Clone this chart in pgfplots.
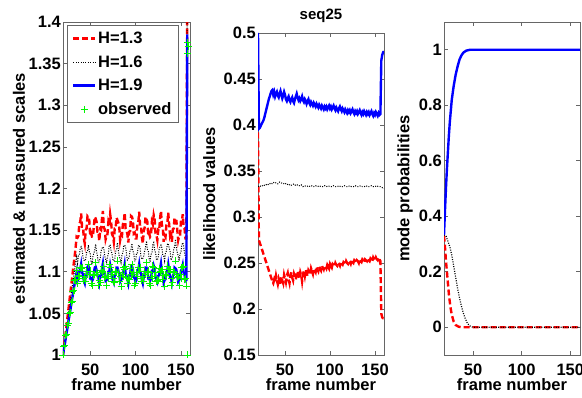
\documentclass[border=0pt]{standalone}
\usepackage{pgfplots}
\pgfplotsset{compat=1.18}
\usepackage{pgfplotstable}
\usepackage{fontspec}
\setmainfont{Liberation Sans}
\definecolor{mred}{RGB}{255,0,0}
\definecolor{mblue}{RGB}{0,0,255}
\definecolor{mgreen}{RGB}{0,245,0}
\newcommand\lf{\fontsize{16.5}{19}\selectfont\bfseries}

\pgfplotstableread{
f r b u o
20 1.000 1.000 1.000 1.000
21 1.009 1.008 1.007 1.010
22 1.018 1.016 1.013 1.012
23 1.027 1.024 1.020 1.024
24 1.036 1.032 1.027 1.025
25 1.046 1.040 1.033 1.036
26 1.055 1.048 1.040 1.038
27 1.064 1.056 1.047 1.050
28 1.074 1.064 1.053 1.051
29 1.083 1.072 1.060 1.063
30 1.092 1.080 1.067 1.065
31 1.102 1.088 1.073 1.076
32 1.111 1.096 1.080 1.078
33 1.120 1.104 1.087 1.090
34 1.130 1.112 1.093 1.091
35 1.142 1.118 1.099 1.102
36 1.141 1.110 1.089 1.086
37 1.143 1.119 1.091 1.096
38 1.158 1.120 1.100 1.094
39 1.160 1.128 1.103 1.105
40 1.170 1.130 1.109 1.104
41 1.154 1.127 1.099 1.105
42 1.154 1.117 1.097 1.089
43 1.140 1.114 1.089 1.092
44 1.134 1.113 1.086 1.094
45 1.150 1.115 1.095 1.089
46 1.152 1.123 1.097 1.100
47 1.167 1.125 1.106 1.097
48 1.166 1.132 1.107 1.109
49 1.161 1.124 1.102 1.097
50 1.143 1.122 1.092 1.101
51 1.146 1.111 1.092 1.086
52 1.142 1.110 1.089 1.084
53 1.142 1.119 1.091 1.097
54 1.155 1.122 1.098 1.096
55 1.166 1.126 1.105 1.097
56 1.164 1.133 1.106 1.111
57 1.160 1.124 1.102 1.099
58 1.148 1.119 1.095 1.097
59 1.148 1.110 1.093 1.084
60 1.137 1.113 1.087 1.090
61 1.151 1.116 1.095 1.087
62 1.150 1.125 1.096 1.102
63 1.164 1.128 1.104 1.099
64 1.173 1.130 1.110 1.101
65 1.153 1.128 1.099 1.107
66 1.151 1.119 1.096 1.093
67 1.139 1.115 1.089 1.094
68 1.143 1.110 1.090 1.084
69 1.145 1.118 1.093 1.095
70 1.159 1.121 1.100 1.092
71 1.155 1.132 1.100 1.109
72 1.169 1.132 1.108 1.105
73 1.161 1.125 1.102 1.097
74 1.145 1.122 1.093 1.099
75 1.143 1.114 1.090 1.088
76 1.136 1.113 1.087 1.092
77 1.152 1.115 1.096 1.087
78 1.152 1.124 1.097 1.100
79 1.165 1.127 1.105 1.099
80 1.162 1.135 1.105 1.113
81 1.159 1.126 1.101 1.099
82 1.154 1.118 1.097 1.089
83 1.138 1.116 1.088 1.094
84 1.144 1.111 1.090 1.082
85 1.143 1.120 1.092 1.097
86 1.157 1.123 1.099 1.094
87 1.159 1.131 1.102 1.105
88 1.171 1.132 1.109 1.103
89 1.152 1.130 1.098 1.107
90 1.150 1.121 1.095 1.093
91 1.145 1.114 1.091 1.086
92 1.135 1.115 1.086 1.092
93 1.148 1.118 1.094 1.091
94 1.149 1.126 1.096 1.104
95 1.167 1.127 1.106 1.097
96 1.166 1.134 1.107 1.109
97 1.162 1.125 1.103 1.097
98 1.146 1.122 1.094 1.099
99 1.147 1.113 1.092 1.084
100 1.140 1.113 1.088 1.086
101 1.140 1.122 1.090 1.099
102 1.158 1.122 1.100 1.094
103 1.159 1.131 1.102 1.105
104 1.172 1.132 1.109 1.101
105 1.155 1.128 1.100 1.105
106 1.155 1.118 1.098 1.089
107 1.141 1.115 1.090 1.092
108 1.134 1.116 1.086 1.094
109 1.149 1.119 1.094 1.089
110 1.153 1.125 1.098 1.100
111 1.166 1.129 1.105 1.097
112 1.163 1.137 1.105 1.111
113 1.160 1.127 1.102 1.099
114 1.143 1.125 1.092 1.101
115 1.146 1.114 1.092 1.086
116 1.142 1.113 1.089 1.084
117 1.144 1.121 1.092 1.095
118 1.160 1.122 1.101 1.092
119 1.157 1.133 1.101 1.107
120 1.168 1.135 1.107 1.105
121 1.163 1.126 1.103 1.095
122 1.146 1.123 1.094 1.099
123 1.144 1.115 1.091 1.088
124 1.138 1.114 1.088 1.090
125 1.150 1.118 1.095 1.089
126 1.149 1.127 1.096 1.104
127 1.164 1.130 1.104 1.099
128 1.173 1.132 1.110 1.101
129 1.156 1.129 1.100 1.103
130 1.153 1.120 1.097 1.091
131 1.136 1.119 1.087 1.096
132 1.144 1.113 1.090 1.082
133 1.142 1.123 1.091 1.097
134 1.156 1.125 1.099 1.096
135 1.158 1.133 1.102 1.107
136 1.171 1.134 1.109 1.103
137 1.157 1.129 1.101 1.103
138 1.144 1.125 1.093 1.101
139 1.148 1.114 1.093 1.084
140 1.136 1.116 1.087 1.092
141 1.151 1.119 1.095 1.087
142 1.152 1.127 1.097 1.100
143 1.165 1.130 1.105 1.099
144 1.161 1.139 1.104 1.113
145 1.161 1.128 1.102 1.097
146 1.150 1.123 1.095 1.093
147 1.138 1.119 1.088 1.094
148 1.143 1.113 1.090 1.084
149 1.143 1.122 1.092 1.097
150 1.160 1.123 1.101 1.092
151 1.160 1.132 1.103 1.105
152 1.169 1.135 1.108 1.105
153 1.153 1.131 1.099 1.107
154 1.152 1.122 1.096 1.091
155 1.140 1.118 1.089 1.092
156 1.140 1.115 1.090 1.083
157 1.450 1.420 1.385 1.375
}\scales

\pgfplotstableread{
f v
20 0.500
21 0.396
22 0.397
23 0.399
24 0.401
25 0.403
26 0.405
27 0.408
28 0.412
29 0.416
30 0.420
31 0.424
32 0.428
33 0.431
34 0.434
35 0.437
36 0.438
37 0.433
38 0.436
39 0.431
40 0.434
41 0.436
42 0.432
43 0.430
44 0.434
45 0.437
46 0.433
47 0.429
48 0.432
49 0.436
50 0.433
51 0.428
52 0.426
53 0.429
54 0.431
55 0.427
56 0.425
57 0.428
58 0.430
59 0.426
60 0.424
61 0.428
62 0.431
63 0.434
64 0.430
65 0.427
66 0.429
67 0.426
68 0.428
69 0.431
70 0.427
71 0.425
72 0.428
73 0.426
74 0.423
75 0.426
76 0.428
77 0.424
78 0.422
79 0.425
80 0.423
81 0.421
82 0.424
83 0.422
84 0.420
85 0.423
86 0.421
87 0.419
88 0.422
89 0.420
90 0.418
91 0.421
92 0.419
93 0.417
94 0.420
95 0.418
96 0.420
97 0.417
98 0.419
99 0.421
100 0.418
101 0.420
102 0.417
103 0.419
104 0.421
105 0.418
106 0.416
107 0.419
108 0.417
109 0.415
110 0.418
111 0.420
112 0.417
113 0.415
114 0.418
115 0.416
116 0.414
117 0.417
118 0.415
119 0.413
120 0.416
121 0.414
122 0.416
123 0.413
124 0.415
125 0.417
126 0.414
127 0.412
128 0.415
129 0.413
130 0.415
131 0.412
132 0.414
133 0.416
134 0.413
135 0.411
136 0.414
137 0.412
138 0.415
139 0.413
140 0.411
141 0.414
142 0.412
143 0.414
144 0.411
145 0.413
146 0.415
147 0.412
148 0.410
149 0.413
150 0.411
151 0.414
152 0.412
153 0.410
154 0.413
155 0.411
156 0.412
157 0.470
158 0.476
159 0.479
160 0.480
}\likeBlue

\pgfplotstableread{
f v
20 0.333
22 0.334
24 0.333
26 0.335
28 0.334
30 0.336
32 0.335
34 0.337
36 0.336
38 0.338
40 0.337
42 0.336
44 0.338
46 0.337
48 0.336
50 0.337
52 0.335
54 0.336
56 0.334
58 0.335
60 0.336
62 0.334
64 0.335
66 0.334
68 0.335
70 0.333
72 0.334
74 0.333
76 0.334
78 0.333
80 0.334
82 0.333
84 0.334
86 0.333
88 0.334
90 0.333
92 0.333
94 0.334
96 0.333
98 0.334
100 0.333
102 0.333
104 0.334
106 0.333
108 0.333
110 0.334
112 0.333
114 0.333
116 0.334
118 0.333
120 0.333
122 0.334
124 0.333
126 0.333
128 0.334
130 0.333
132 0.333
134 0.334
136 0.333
138 0.333
140 0.334
142 0.333
144 0.333
146 0.334
148 0.333
150 0.333
152 0.334
154 0.333
156 0.333
158 0.332
160 0.331
}\likeBlack

\pgfplotstableread{
f v
20 0.392
21 0.275
22 0.272
23 0.269
24 0.266
25 0.263
26 0.260
27 0.257
28 0.254
29 0.251
30 0.248
31 0.245
32 0.242
33 0.239
34 0.236
35 0.233
36 0.230
37 0.228
38 0.232
39 0.229
40 0.236
41 0.231
42 0.227
43 0.233
44 0.230
45 0.226
46 0.235
47 0.231
48 0.228
49 0.237
50 0.233
51 0.229
52 0.236
53 0.239
54 0.232
55 0.228
56 0.236
57 0.240
58 0.234
59 0.231
60 0.238
61 0.235
62 0.232
63 0.239
64 0.241
65 0.236
66 0.233
67 0.240
68 0.237
69 0.230
70 0.238
71 0.241
72 0.236
73 0.243
74 0.239
75 0.236
76 0.242
77 0.240
78 0.237
79 0.244
80 0.241
81 0.238
82 0.244
83 0.242
84 0.240
85 0.246
86 0.243
87 0.241
88 0.246
89 0.244
90 0.242
91 0.247
92 0.245
93 0.243
94 0.247
95 0.246
96 0.244
97 0.248
98 0.246
99 0.244
100 0.249
101 0.247
102 0.245
103 0.249
104 0.248
105 0.246
106 0.250
107 0.248
108 0.247
109 0.250
110 0.249
111 0.247
112 0.251
113 0.249
114 0.248
115 0.251
116 0.250
117 0.248
118 0.252
119 0.250
120 0.249
121 0.252
122 0.251
123 0.249
124 0.253
125 0.251
126 0.250
127 0.253
128 0.252
129 0.250
130 0.253
131 0.252
132 0.250
133 0.254
134 0.252
135 0.251
136 0.254
137 0.253
138 0.251
139 0.254
140 0.253
141 0.252
142 0.255
143 0.253
144 0.252
145 0.255
146 0.254
147 0.252
148 0.256
149 0.254
150 0.253
151 0.256
152 0.254
153 0.253
154 0.256
155 0.254
156 0.252
157 0.195
158 0.191
159 0.190
160 0.190
}\likeRed

\pgfplotsset{
  mframe/.style={
    scale only axis, anchor=south west, enlargelimits=false,
    xmin=20, xmax=160, xtick={50,100,150},
    tick align=inside, major tick length=4pt,
    axis line style={black!60, line width=0.6pt},
    every tick/.style={black!60, line width=0.6pt},
    scaled ticks=false,
    /pgf/number format/assume math mode=true,
    tick label style={font=\lf},
    yticklabel style={inner xsep=2pt},
    xticklabel style={inner ysep=1.5pt, yshift=-7pt},
    xlabel={frame number},
    every axis x label/.style={at={(axis description cs:0.5,0)}, anchor=base, yshift=-36pt, font=\lf},
  },
  mred/.style={color=mred, line width=2.4pt, dash pattern=on 6pt off 3pt},
  mblack/.style={color=black, line width=1pt, dash pattern=on 1pt off 1.4pt},
  mblue/.style={color=mblue, line width=2.4pt},
}

\begin{document}
\begin{tikzpicture}
\useasboundingbox (0pt,0pt) rectangle (582pt,397pt);

% panel 1
\begin{axis}[mframe, at={(63pt,42pt)}, width=127pt, height=333pt,
  ymin=1, ymax=1.4, ytick={1,1.05,1.1,1.15,1.2,1.25,1.3,1.35,1.4},
  yticklabels={1,1.05,1.1,1.15,1.2,1.25,1.3,1.35,1.4},
  ylabel={estimated \& measured scales},
  every axis y label/.style={at={(axis description cs:-0.30,0.5)}, rotate=90, anchor=base, font=\lf},
  legend style={at={(axis description cs:0.031,0.99)}, anchor=north west,
    draw=black!60, line width=0.6pt, fill=white, font=\lf,
    inner xsep=5pt, inner ysep=5pt, row sep=7.5pt,
    nodes={inner sep=1.5pt},
    cells={anchor=west}},
  legend image code/.code={\draw[mark repeat=2,mark phase=2,#1] plot coordinates {(0pt,0pt) (11pt,0pt) (22pt,0pt)};},
]
\addplot[mred] table[x=f,y=r] {\scales};
\addlegendentry{H=1.3}
\addplot[mblack] table[x=f,y=b] {\scales};
\addlegendentry{H=1.6}
\addplot[mblue] table[x=f,y=u] {\scales};
\addlegendentry{H=1.9}
\addplot[only marks, mark=+, mark size=3.5pt, color=mgreen, mark options={line width=0.7pt}] table[x=f,y=o] {\scales};
\addlegendentry{observed\hspace{10pt}}
\addplot[only marks, mark=+, mark size=3.5pt, color=mgreen, mark options={line width=0.7pt}, forget plot] coordinates {(157,1.362) (158,1.371) (157,1.000)};
\end{axis}

% panel 2
\begin{axis}[mframe, at={(258pt,42pt)}, width=126pt, height=322pt,
  ymin=0.15, ymax=0.5, ytick={0.15,0.2,0.25,0.3,0.35,0.4,0.45,0.5},
  yticklabels={0.15,0.2,0.25,0.3,0.35,0.4,0.45,0.5},
  ylabel={likelihood values},
  every axis y label/.style={at={(axis description cs:-0.34,0.5)}, rotate=90, anchor=base, font=\lf},
  title={seq25},
  every axis title/.style={at={(axis description cs:0.5,1)}, anchor=base, yshift=13pt, font=\fontsize{15}{18}\selectfont\bfseries},
]
\addplot[mred] table[x=f,y=v] {\likeRed};
\addplot[mblack] table[x=f,y=v] {\likeBlack};
\addplot[mblue] table[x=f,y=v] {\likeBlue};
\end{axis}

% panel 3
\begin{axis}[mframe, at={(444pt,42pt)}, width=136pt, height=333pt,
  ymin=-0.1, ymax=1.1, ytick={0,0.2,0.4,0.6,0.8,1},
  yticklabels={0,0.2,0.4,0.6,0.8,1},
  ylabel={mode probabilities},
  every axis y label/.style={at={(axis description cs:-0.255,0.5)}, rotate=90, anchor=base, font=\lf},
]
\addplot[mred] coordinates {(20,0.330) (21,0.290) (22,0.240) (23,0.200) (24,0.160) (25,0.120) (26,0.090) (27,0.065) (28,0.045) (30,0.020) (32,0.008) (35,0.002) (38,0.000) (160,0.000)};
\addplot[mblack, line width=1.2pt] coordinates {(20,0.333) (22,0.330) (24,0.310) (26,0.290) (28,0.260) (30,0.220) (32,0.180) (34,0.140) (36,0.105) (38,0.075) (40,0.050) (42,0.030) (44,0.015) (46,0.006) (48,0.002) (50,0.000) (160,0.000)};
\addplot[mblue] coordinates {(20,0.333) (21,0.420) (22,0.500) (23,0.570) (24,0.630) (25,0.690) (26,0.740) (27,0.780) (28,0.820) (30,0.870) (32,0.910) (34,0.940) (36,0.965) (38,0.980) (40,0.990) (43,0.997) (47,1.000) (160,1.000)};
\end{axis}
\end{tikzpicture}
\end{document}
